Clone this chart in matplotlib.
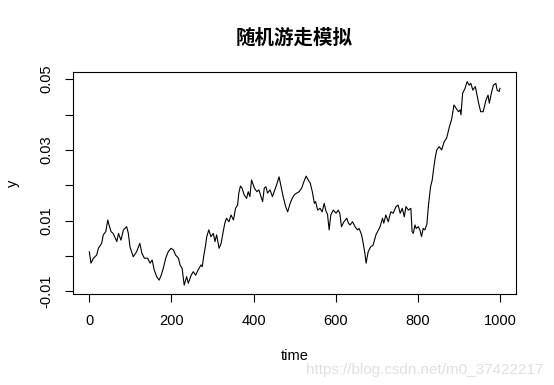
"""
Random walk line chart in R base-graphics style.
"""

import matplotlib

matplotlib.use("Agg")
import matplotlib.pyplot as plt
import numpy as np

plt.rcParams["font.family"] = ["Liberation Sans", "DejaVu Sans"]
plt.rcParams["axes.unicode_minus"] = False

# values
TIME = [
    0, 4, 10, 18, 22, 30, 34, 40, 45, 48, 53, 58, 67, 71, 77, 83, 91, 95, 99, 107,
    115, 123, 128, 134, 142, 148, 153, 158, 164, 170, 175, 180, 186, 192, 199, 205, 210, 217, 221, 226,
    231, 237, 241, 248, 253, 259, 265, 272, 275, 279, 283, 286, 291, 296, 302, 306, 310, 316, 321, 326,
    330, 334, 340, 345, 351, 356, 361, 364, 368, 372, 377, 383, 387, 391, 395, 402, 408, 413, 418, 422,
    426, 430, 434, 440, 446, 450, 456, 462, 467, 472, 478, 483, 489, 494, 499, 505, 511, 517, 524, 528,
    533, 538, 543, 548, 551, 556, 562, 567, 572, 576, 580, 584, 588, 594, 601, 606, 610, 614, 620, 627,
    631, 635, 641, 647, 653, 657, 663, 667, 671, 674, 679, 685, 691, 698, 704, 708, 714, 717, 722, 728,
    734, 740, 747, 752, 757, 762, 767, 771, 777, 783, 786, 789, 793, 796, 801, 805, 809, 813, 817, 822,
    826, 831, 835, 838, 842, 846, 852, 858, 864, 870, 877, 882, 888, 893, 899, 903, 905, 909, 915, 920,
    925, 929, 934, 940, 944, 948, 953, 959, 966, 971, 974, 980, 984, 990, 993, 998, 1000,
]
Y = [
    0.0012, -0.0020, -0.0006, 0.0003, 0.0022, 0.0036, 0.0060, 0.0069, 0.0102, 0.0088,
    0.0069, 0.0064, 0.0041, 0.0064, 0.0045, 0.0074, 0.0083, 0.0064, 0.0026, -0.0002,
    0.0012, 0.0036, 0.0008, -0.0006, -0.0006, -0.0020, -0.0011, -0.0039, -0.0058, -0.0068,
    -0.0054, -0.0035, -0.0006, 0.0012, 0.0022, 0.0017, 0.0003, -0.0006, -0.0025, -0.0035,
    -0.0082, -0.0058, -0.0077, -0.0054, -0.0044, -0.0054, -0.0039, -0.0025, -0.0030, 0.0003,
    0.0030, 0.0055, 0.0074, 0.0055, 0.0064, 0.0041, 0.0060, 0.0022, 0.0036, 0.0069,
    0.0093, 0.0107, 0.0097, 0.0116, 0.0102, 0.0135, 0.0144, 0.0178, 0.0198, 0.0192,
    0.0173, 0.0163, 0.0182, 0.0168, 0.0215, 0.0192, 0.0182, 0.0187, 0.0168, 0.0154,
    0.0192, 0.0196, 0.0178, 0.0187, 0.0168, 0.0182, 0.0201, 0.0224, 0.0196, 0.0168,
    0.0140, 0.0125, 0.0149, 0.0163, 0.0173, 0.0178, 0.0182, 0.0192, 0.0215, 0.0226,
    0.0215, 0.0206, 0.0182, 0.0149, 0.0154, 0.0130, 0.0135, 0.0125, 0.0149, 0.0128,
    0.0118, 0.0074, 0.0116, 0.0130, 0.0121, 0.0130, 0.0121, 0.0083, 0.0097, 0.0107,
    0.0093, 0.0088, 0.0097, 0.0083, 0.0074, 0.0078, 0.0060, 0.0036, 0.0008, -0.0020,
    0.0012, 0.0026, 0.0031, 0.0060, 0.0074, 0.0083, 0.0107, 0.0093, 0.0116, 0.0097,
    0.0125, 0.0121, 0.0140, 0.0144, 0.0121, 0.0135, 0.0111, 0.0140, 0.0130, 0.0135,
    0.0069, 0.0064, 0.0088, 0.0078, 0.0083, 0.0074, 0.0055, 0.0078, 0.0074, 0.0090,
    0.0145, 0.0196, 0.0215, 0.0243, 0.0276, 0.0300, 0.0309, 0.0300, 0.0323, 0.0333,
    0.0366, 0.0385, 0.0427, 0.0418, 0.0408, 0.0413, 0.0399, 0.0460, 0.0474, 0.0493,
    0.0483, 0.0488, 0.0469, 0.0479, 0.0455, 0.0432, 0.0408, 0.0408, 0.0441, 0.0455,
    0.0432, 0.0465, 0.0483, 0.0488, 0.0469, 0.0465, 0.0474,
]
X_TICKS = [0, 200, 400, 600, 800, 1000]
Y_TICKS = [-0.01, 0.0, 0.01, 0.02, 0.03, 0.04, 0.05]
Y_TICK_LABELS = ["-0.01", "", "0.01", "", "0.03", "", "0.05"]
TITLE = "随机游走模拟"
WATERMARK = "https://blog.csdn.net/m0_37422217"

W, H = 554, 385


def main() -> None:
    fig = plt.figure(figsize=(W / 100, H / 100), dpi=100)
    ax = fig.add_axes([72.9 / W, 1 - 294.3 / H, (516.4 - 72.9) / W, (294.3 - 71.7) / H])

    ax.plot(np.asarray(TIME), np.asarray(Y), color="black", lw=0.8)

    ax.set_xlim(-40, 1040)
    ax.set_ylim(-0.0108, 0.0521)
    ax.set_xticks(X_TICKS)
    ax.set_xticklabels([str(t) for t in X_TICKS])
    ax.set_yticks(Y_TICKS)
    ax.set_yticklabels(Y_TICK_LABELS, rotation=90, va="center")

    for s in ax.spines.values():
        s.set_linewidth(0.8)
        s.set_color("black")
    ax.tick_params(direction="out", length=5.5, width=0.8, labelsize=10.5, colors="black")
    ax.tick_params(axis="x", pad=8.5)
    ax.tick_params(axis="y", pad=8.5)

    ax.set_xlabel("time", fontsize=10.5, va="center")
    ax.xaxis.set_label_coords(0.5, (294.3 - 356) / (294.3 - 71.7))
    ax.set_ylabel("y", fontsize=10.5, va="center")
    ax.yaxis.set_label_coords((13 - 72.9) / (516.4 - 72.9), 0.5)

    fig.text(294.6 / W, 1 - 38 / H, TITLE, ha="center", va="center",
             fontsize=14, fontweight="bold", family=["Noto Sans CJK SC", "DejaVu Sans"])
    # faint site watermark at the bottom right
    fig.text(306 / W, 1 - 370 / H, WATERMARK, ha="left", va="center",
             fontsize=11, color="#e0e0e0")

    fig.savefig("out.png", dpi=100)
    plt.close(fig)


if __name__ == "__main__":
    main()
